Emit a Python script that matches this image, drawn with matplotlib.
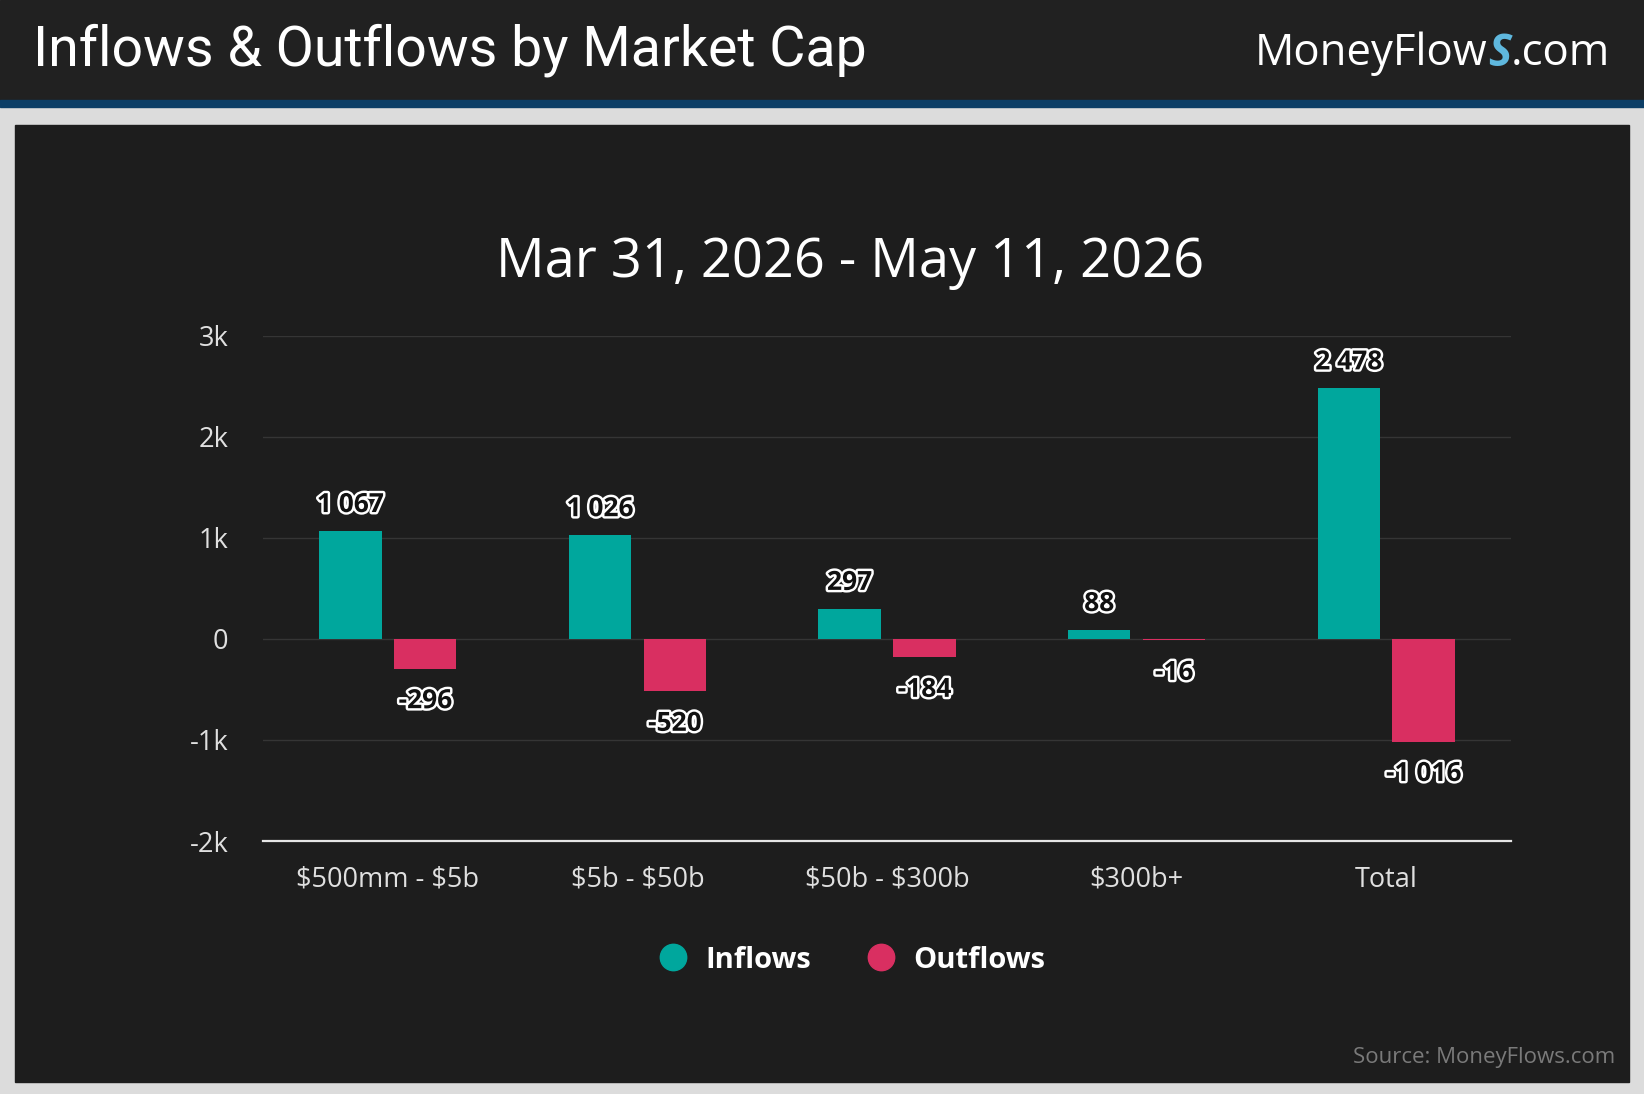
import matplotlib
matplotlib.use("Agg")
import matplotlib.pyplot as plt
import matplotlib.patheffects as pe
from matplotlib.patches import Rectangle
from matplotlib.lines import Line2D

# ─── Data ────────────────────────────────────────────────────────────────────

categories = ["\\$500mm - \\$5b", "\\$5b - \\$50b", "\\$50b - \\$300b", "\\$300b+", "Total"]
inflows = [1067, 1026, 297, 88, 2478]
outflows = [-296, -520, -184, -16, -1016]
y_ticks = [-2000, -1000, 0, 1000, 2000, 3000]
y_tick_labels = ["-2k", "-1k", "0", "1k", "2k", "3k"]

TITLE = "Inflows & Outflows by Market Cap"
SUBTITLE = "Mar 31, 2026 - May 11, 2026"

TEAL = "#00a79d"
PINK = "#d92f61"
PANEL = "#1d1d1d"
HEADER = "#212121"
FONT = ["Open Sans", "DejaVu Sans"]

W, H = 1644, 1094


def fx(px):
    return px / W


def fy(py):
    return 1 - py / H


def fmt(v):
    s = f"{abs(v):,}".replace(",", " ")
    return "-" + s if v < 0 else s


# ─── Figure chrome ──────────────────────────────────────────────────────────

fig = plt.figure(figsize=(W / 100, H / 100), dpi=100, facecolor="#dcdcdc")
fig.add_artist(Rectangle((0, fy(100)), 1, 100 / H, transform=fig.transFigure,
                         color=HEADER, zorder=0))
fig.add_artist(Rectangle((0, fy(107)), 1, 7 / H, transform=fig.transFigure,
                         color="#0c3e66", zorder=0))
fig.add_artist(Rectangle((fx(15), fy(1082)), (1629 - 15) / W, (1082 - 125) / H,
                         transform=fig.transFigure, color=PANEL, zorder=0))

fig.text(fx(33), fy(50), TITLE, color="white", fontsize=40,
         family=["Roboto", "DejaVu Sans"], ha="left", va="center")

# logo: MoneyFlow + S + .com
fig.canvas.draw()
renderer = fig.canvas.get_renderer()
x = fx(1255)
for part, color, style, weight in [("MoneyFlow", "white", "normal", "normal"),
                                   ("S", "#5fb8de", "italic", "bold"),
                                   (".com", "white", "normal", "normal")]:
    t = fig.text(x, fy(54), part, color=color, fontsize=31.5, style=style, weight=weight,
                 family=FONT, ha="left", va="center")
    bb = t.get_window_extent(renderer)
    x = fig.transFigure.inverted().transform((bb.x1, 0))[0]

fig.text(fx(850), fy(262), SUBTITLE, color="white", fontsize=39,
         family=FONT, ha="center", va="center")

fig.text(fx(1615), fy(1058), "Source: MoneyFlows.com", color="#7a7a7a", fontsize=16,
         family=FONT, ha="right", va="center")

# ─── Chart ──────────────────────────────────────────────────────────────────

ax = fig.add_axes([fx(263), fy(841), (1511 - 263) / W, (841 - 335.5) / H])
ax.set_facecolor(PANEL)

xs = list(range(len(categories)))
bw, off = 0.25, 0.15
ax.bar([i - off for i in xs], inflows, width=bw, color=TEAL, zorder=3)
ax.bar([i + off for i in xs], outflows, width=bw, color=PINK, zorder=3)

stroke = [pe.withStroke(linewidth=3.5, foreground="white")]
for i, v in enumerate(inflows):
    ax.annotate(fmt(v), (i - off, v), xytext=(0, 19), textcoords="offset points",
                ha="center", va="center", fontsize=19, weight="bold", color="#111111",
                family=FONT, path_effects=stroke, zorder=5)
for i, v in enumerate(outflows):
    ax.annotate(fmt(v), (i + off, v), xytext=(0, -23), textcoords="offset points",
                ha="center", va="center", fontsize=19, weight="bold", color="#111111",
                family=FONT, path_effects=stroke, zorder=5)

ax.set_xlim(-0.5, len(categories) - 0.5)
ax.set_ylim(-2000, 3000)
ax.set_xticks(xs)
ax.set_xticklabels(categories)
ax.set_yticks(y_ticks)
ax.set_yticklabels(y_tick_labels)
ax.tick_params(length=0, colors="#e0e0e0", labelsize=19.5)
ax.tick_params(axis="y", pad=25)
ax.tick_params(axis="x", pad=18)
for lab in ax.get_xticklabels() + ax.get_yticklabels():
    lab.set_family(FONT)

ax.yaxis.grid(True, color="#353535", lw=1, zorder=0)
ax.set_axisbelow(True)
for side in ["top", "right", "left"]:
    ax.spines[side].set_visible(False)
ax.spines["bottom"].set_color("#e6e6e6")
ax.spines["bottom"].set_linewidth(1.6)

handles = [Line2D([], [], marker="o", ls="", color=TEAL, markersize=19),
           Line2D([], [], marker="o", ls="", color=PINK, markersize=19)]
leg = fig.legend(handles, ["Inflows", "Outflows"], loc="center",
                 bbox_to_anchor=(fx(852), fy(960)), ncol=2, frameon=False,
                 handlelength=1.0, handletextpad=0.6, columnspacing=1.9,
                 prop={"family": FONT, "weight": "bold", "size": 21})
for t in leg.get_texts():
    t.set_color("white")

fig.savefig("out.png", dpi=100, facecolor=fig.get_facecolor())
